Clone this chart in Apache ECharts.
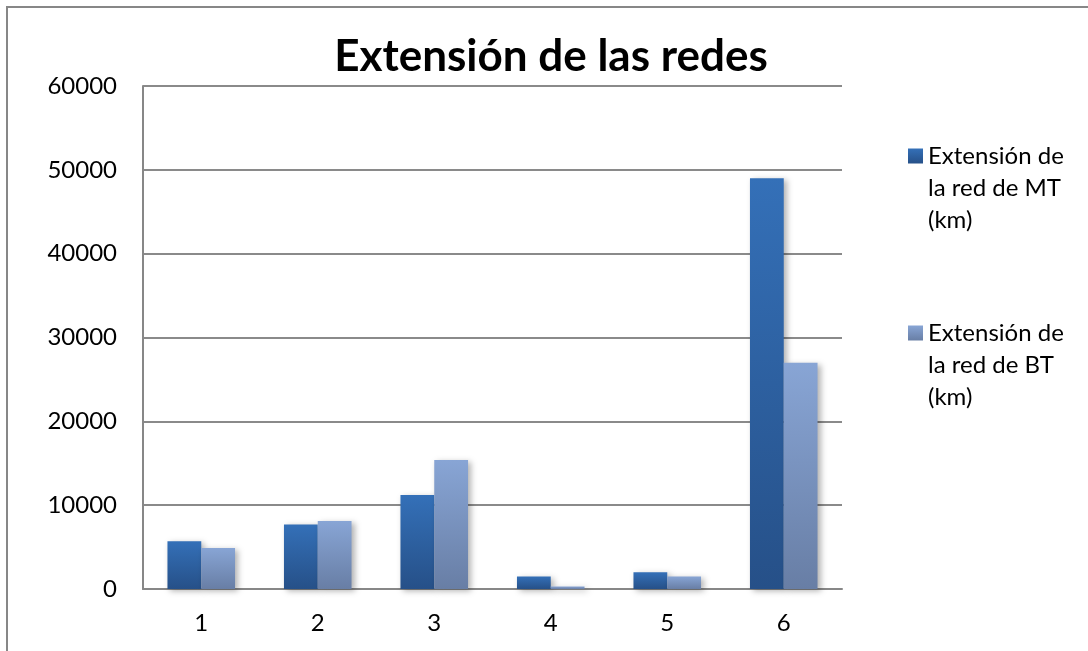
<!DOCTYPE html>
<html>
<head>
<meta charset="utf-8">
<script src="https://cdn.jsdelivr.net/npm/echarts@6/dist/echarts.min.js"></script>
<style>
html,body{margin:0;padding:0;background:#fff;}
#chart{width:1088px;height:651px;}
</style>
</head>
<body>
<div id="chart"></div>
<script>
var titleText = 'Extensión de las redes';
var categories = ['1', '2', '3', '4', '5', '6'];
var seriesNames = ['Extensión de\nla red de MT\n(km)', 'Extensión de\nla red de BT\n(km)'];
var mtValues = [5700, 7700, 11200, 1500, 2000, 49000];
var btValues = [4900, 8100, 15400, 300, 1500, 27000];
var yTicks = { min: 0, max: 60000, interval: 10000 };

var FONT = 'Lato, "Open Sans", sans-serif';
function grad(top, bottom) {
  return { type: 'linear', x: 0, y: 0, x2: 0, y2: 1,
    colorStops: [{ offset: 0, color: top }, { offset: 1, color: bottom }] };
}
var chart = echarts.init(document.getElementById('chart'), null, { renderer: 'canvas' });
chart.setOption({
  backgroundColor: '#ffffff',
  animation: false,
  title: {
    text: titleText,
    left: 546, top: 30, textAlign: 'center',
    textStyle: { fontFamily: FONT, fontSize: 44, fontWeight: 'bold', color: '#000' }
  },
  graphic: [{
    type: 'rect', silent: true, z: -1,
    shape: { x: 7, y: 7, width: 1300, height: 900 },
    style: { fill: 'none', stroke: '#878787', lineWidth: 2 }
  }],
  legend: {
    orient: 'vertical', left: 908, top: 76, padding: 0,
    itemWidth: 15, itemHeight: 15, itemGap: 17,
    icon: 'rect',
    formatter: function (name) { return '\n\n' + name; },
    textStyle: { fontFamily: FONT, fontSize: 24, color: '#000', lineHeight: 32 },
    data: seriesNames
  },
  grid: { left: 143, right: 246, top: 86, bottom: 62, containLabel: false },
  xAxis: {
    type: 'category', data: categories,
    axisLine: { lineStyle: { color: '#878787', width: 2 } },
    axisTick: { show: false },
    axisLabel: { fontFamily: FONT, fontSize: 24, color: '#000', margin: 22 }
  },
  yAxis: {
    type: 'value', min: yTicks.min, max: yTicks.max, interval: yTicks.interval,
    axisLine: { show: true, lineStyle: { color: '#878787', width: 2 } },
    axisTick: { show: false },
    splitLine: { lineStyle: { color: '#8a8a8a', width: 2 } },
    axisLabel: { fontFamily: FONT, fontSize: 24, color: '#000', margin: 26,
      formatter: function (v) { return String(v); } }
  },
  series: [{
    name: seriesNames[0], type: 'bar', data: mtValues,
    barGap: '0%', barCategoryGap: '42%',
    itemStyle: { color: grad('#3470b8', '#265088'),
      shadowColor: 'rgba(0,0,0,0.3)', shadowBlur: 6, shadowOffsetX: 3, shadowOffsetY: 2 }
  }, {
    name: seriesNames[1], type: 'bar', data: btValues,
    barGap: '0%', barCategoryGap: '42%',
    itemStyle: { color: grad('#88a5d5', '#687ea5'),
      shadowColor: 'rgba(0,0,0,0.3)', shadowBlur: 6, shadowOffsetX: 3, shadowOffsetY: 2 }
  }]
});
</script>
</body>
</html>
